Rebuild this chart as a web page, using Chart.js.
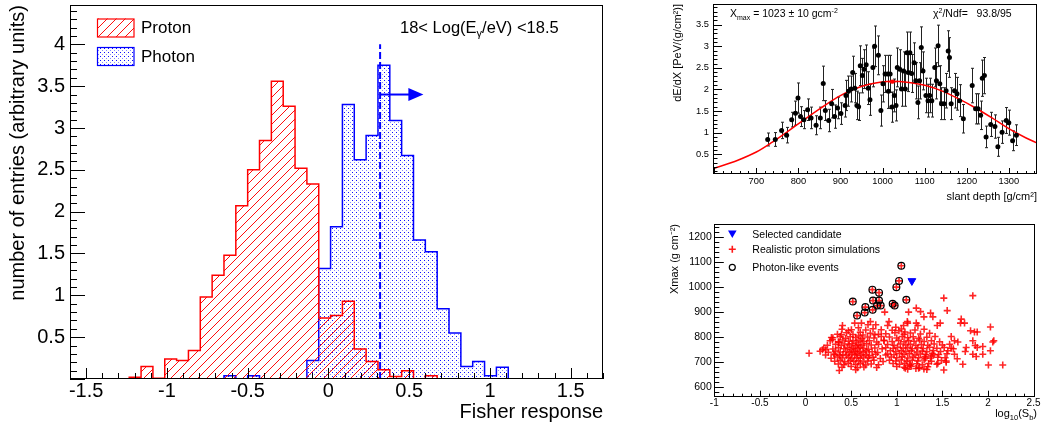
<!DOCTYPE html>
<html><head><meta charset="utf-8">
<script src="https://cdn.jsdelivr.net/npm/chart.js@4.4.1/dist/chart.umd.min.js"></script>
<style>
html,body{margin:0;padding:0;background:#fff;width:1041px;height:430px;overflow:hidden}
.box{position:absolute}
canvas{display:block}
</style></head><body>
<div class="box" style="left:0;top:0"><canvas id="c1" width="620" height="430"></canvas></div>
<div class="box" style="left:620px;top:0"><canvas id="c2" width="421" height="215"></canvas></div>
<div class="box" style="left:620px;top:215px"><canvas id="c3" width="421" height="215"></canvas></div>
<script>
// ---------------- DATA ----------------
// Left: Fisher response histograms (45 bins from -1.6 to 1.7)
const histLo = -1.6, histHi = 1.7, nBins = 45;
const protonCounts = [0,0,0,0,0,0.02,0.15,0.01,0.24,0.22, 0.34,0.98,1.24,1.48,2.07,2.50,2.85,3.56,3.26,2.52, 2.33,0.73,0.76,0.93,0.36,0.21,0.11,0.03,0.10,0, 0.04,0,0,0,0,0,0,0,0,0, 0,0,0,0,0];
const photonCounts = [0,0,0,0,0,0,0,0,0,0, 0,0,0,0.04,0,0.04,0,0,0,0, 0.22,1.32,1.82,3.28,2.62,2.91,3.75,3.09,2.67,1.66, 1.52,0.84,0.55,0.15,0.21,0.04,0.14,0,0,0, 0,0,0,0,0];
const cutValue = 0.32, cutTop = 4.0, arrowY = 3.4, arrowBase = 0.495, arrowTip = 0.588;
const histXTicks = [-1.5,-1,-0.5,0,0.5,1,1.5];
const histYTicks = [0.5,1,1.5,2,2.5,3,3.5,4];

// Top right: longitudinal profile
const profX = [727,745,760,772,784,793,799,805,813,822,830,842,852,859,864,872,879,886,893,901,911,913,919,925,929,934,939,943,947,952,956,961,966,970,977,
  981,990,996,1001,1006,1012,1014,1018,1022,1028,1032,1035,1041,1045,1050,1054,1058,1061,1065,1069,1075,1079,1084,1088,1092,1096,1103,1108,1112,1117,1124,1128,1132,1136,1140,1146,1151,1156,1159,1163,1171,1177,1183,1192,1213,1221,1227,1233,1237,1242,1246,1257,1267,1274,1284,1294,1300,1309,1318];
const profY = [0.84,0.84,1.05,0.94,1.30,1.45,1.80,1.37,1.30,1.53,1.34,1.17,1.34,2.14,1.51,1.28,1.67,1.37,1.57,1.44,1.63,1.86,1.96,2.01,2.39,2.03,1.63,1.60,2.55,2.32,2.47,2.57,2.03,1.76,2.51,
  3.00,2.79,1.51,2.13,2.36,2.36,1.96,2.36,1.59,1.86,1.63,2.51,2.47,2.01,2.43,2.01,2.85,2.39,2.85,2.37,2.62,2.20,1.70,2.20,2.97,2.43,1.86,1.74,1.86,1.74,2.51,2.20,3.01,2.13,1.67,1.67,1.97,2.89,2.74,1.67,1.97,1.90,1.74,1.32,2.09,1.55,1.55,1.40,2.26,2.32,0.90,1.19,1.14,0.67,1.01,1.28,1.23,0.81,0.94];
const profErr = [0.15,0.16,0.19,0.18,0.17,0.28,0.35,0.23,0.21,0.25,0.25,0.22,0.25,0.40,0.23,0.26,0.33,0.27,0.25,0.25,0.27,0.35,0.35,0.30,0.38,0.34,0.33,0.32,0.46,0.40,0.45,0.46,0.38,0.36,0.45,
  0.47,0.45,0.36,0.42,0.43,0.43,0.40,0.43,0.35,0.38,0.36,0.45,0.45,0.40,0.44,0.40,0.48,0.44,0.48,0.44,0.46,0.42,0.38,0.42,0.48,0.44,0.40,0.38,0.40,0.38,0.45,0.42,0.48,0.42,0.37,0.37,0.40,0.47,0.46,0.37,0.40,0.38,0.37,0.33,0.40,0.35,0.35,0.33,0.42,0.42,0.25,0.28,0.27,0.22,0.26,0.30,0.29,0.23,0.24];
const fitX = [597,656,700,735,775,814,854,893,933,968,1023,1063,1103,1142,1181,1221,1260,1300,1340,1367];
const fitY = [0.16,0.36,0.55,0.76,1.03,1.30,1.57,1.82,2.01,2.12,2.19,2.16,2.09,1.96,1.78,1.57,1.34,1.09,0.88,0.76];
const xmaxFit = 1023, xmaxErr = 10, xmaxPeak = 2.18;
const profXTicks = [700,800,900,1000,1100,1200,1300];
const profYTicks = [0.5,1,1.5,2,2.5,3,3.5];

// Bottom right: Xmax vs log10(Sb)
const candidate = [[1.166,1026]];
const photonLike = [[1.05,1087],[1.025,1026],[0.996,1001],[0.733,991],[0.806,979],[0.518,943],[0.740,947],[0.806,947],[0.824,927],[0.784,927],[0.656,921],[0.736,910],[0.955,934],[0.977,927],[1.105,950],[0.565,887],[0.649,899]];
const protonSparse = [[0.039,736],[0.186,750],[0.222,750],[0.284,799],[0.295,790],[0.321,730],[0.368,780],[0.405,847],[0.394,810],[0.503,830],[0.539,857],[0.613,857],[0.685,850],[0.711,863],[0.77,850],[0.868,901],[0.915,863],[0.90,847],[1.075,847],[1.12,857],[1.024,826],[1.09,821],[0.99,840],[0.83,830],[0.76,810],
  [1.516,957],[1.834,967],[1.553,907],[1.214,917],[1.261,903],[1.130,901],[1.298,882],[1.371,897],[1.396,882],[1.116,863],[1.214,857],[1.232,847],[1.444,847],[1.477,857],[1.707,873],[1.699,857],[1.743,857],[1.809,826],[1.852,821],[1.882,821],[2.027,841],[1.597,803],[1.633,786],[1.670,781],[1.761,759],[1.834,786],[1.860,767],[1.882,759],[1.943,763],[2.053,781],[2.064,786],[2.027,746],[1.943,732],[1.834,732],[1.871,723],[1.751,743],[1.663,714],[1.633,732],[1.724,692],[2.005,689],[2.162,689],[1.516,669],[1.542,705],[1.542,700],[1.451,696],[1.407,730],[1.597,756],[1.38,725],[1.313,716],[1.240,676],[1.141,687],[1.298,673],[1.094,676]];
const protonCluster1 = [[0.40,832],[0.47,826],[0.58,838],[0.66,829],[0.74,834],
  [0.35,812],[0.45,818],[0.52,811],[0.60,820],[0.63,809],[0.71,816],[0.80,812],
  [0.30,798],[0.38,803],[0.44,796],[0.49,802],[0.55,799],[0.58,805],[0.62,795],[0.68,801],[0.75,797],[0.83,803],
  [0.27,786],[0.36,782],[0.41,789],[0.47,784],[0.52,787],[0.56,781],[0.60,788],[0.64,783],[0.70,786],[0.78,781],[0.86,788],
  [0.24,768],[0.33,772],[0.39,767],[0.43,773],[0.48,769],[0.51,774],[0.55,766],[0.58,771],[0.62,768],[0.67,774],[0.72,769],[0.80,772],
  [0.20,757],[0.30,753],[0.36,758],[0.42,754],[0.46,759],[0.50,752],[0.53,757],[0.57,754],[0.60,760],[0.64,755],[0.69,752],[0.76,757],[0.84,754],
  [0.16,744],[0.25,740],[0.33,745],[0.38,741],[0.44,743],[0.48,739],[0.52,745],[0.55,741],[0.59,744],[0.63,740],[0.67,746],[0.73,742],[0.79,739],
  [0.22,729],[0.31,733],[0.37,728],[0.41,731],[0.45,727],[0.50,732],[0.54,729],[0.57,734],[0.61,728],[0.66,731],[0.70,727],[0.77,732],[0.88,729],
  [0.28,716],[0.35,721],[0.40,717],[0.47,720],[0.51,715],[0.56,719],[0.60,716],[0.64,721],[0.69,717],[0.74,720],[0.82,715],
  [0.32,704],[0.38,708],[0.43,702],[0.49,707],[0.53,703],[0.58,706],[0.63,701],[0.68,705],[0.75,708],[0.85,703],
  [0.36,693],[0.42,690],[0.47,695],[0.55,691],[0.60,694],[0.66,689],[0.72,693],[0.80,690],
  [0.40,680],[0.50,683],[0.57,678],[0.64,681],[0.78,679],[0.37,667],[0.55,670]];
const protonCluster2 = [[0.95,828],[1.05,833],[1.20,829],[1.30,832],
  [0.88,814],[0.98,818],[1.08,812],[1.15,817],[1.26,813],[1.36,816],
  [0.92,801],[1.00,797],[1.06,803],[1.12,798],[1.18,802],[1.24,796],[1.33,800],[1.42,803],
  [0.86,786],[0.95,783],[1.02,788],[1.08,782],[1.13,787],[1.19,784],[1.25,789],[1.30,783],[1.38,786],[1.47,782],
  [0.90,771],[0.97,768],[1.04,773],[1.10,769],[1.15,772],[1.21,767],[1.27,771],[1.34,768],[1.41,773],[1.50,769],[1.58,772],
  [0.88,758],[0.96,755],[1.01,760],[1.07,756],[1.12,759],[1.17,754],[1.23,758],[1.29,755],[1.36,760],[1.44,756],[1.52,759],[1.62,754],
  [0.93,746],[0.99,743],[1.05,747],[1.10,742],[1.16,746],[1.22,741],[1.28,745],[1.33,742],[1.40,747],[1.48,743],[1.56,746],
  [0.90,733],[0.97,730],[1.03,735],[1.08,731],[1.14,734],[1.20,729],[1.26,733],[1.32,730],[1.39,735],[1.46,731],[1.55,734],
  [0.94,721],[1.00,718],[1.06,722],[1.12,717],[1.18,721],[1.24,718],[1.31,722],[1.37,717],[1.45,720],[1.53,718],
  [0.92,708],[0.99,705],[1.05,709],[1.11,704],[1.17,708],[1.23,705],[1.30,709],[1.38,704],[1.49,707],
  [0.96,695],[1.03,692],[1.09,696],[1.15,691],[1.22,694],[1.28,690],[1.35,695],[1.44,692],
  [1.00,683],[1.08,680],[1.16,684],[1.25,679],[1.34,682],[1.12,672],[1.21,675],[1.33,671]];
const scatXTicks = [-1,-0.5,0,0.5,1,1.5,2,2.5];
const scatYTicks = [600,700,800,900,1000,1100,1200];

// ---------------- HELPERS ----------------
const FONT = '"Liberation Sans", Arial, Helvetica, sans-serif';
Chart.defaults.font.family = FONT;
Chart.defaults.color = '#000';
const fmt = v => String(Math.round(v * 100) / 100);
const pts = arr => arr.map(p => ({x: p[0], y: p[1]}));
const zip = (xs, ys) => xs.map((x, i) => ({x, y: ys[i]}));
const fixTicks = list => (s => { s.ticks = list.map(v => ({value: v})); });

function stepData(counts) {
  const w = (histHi - histLo) / nBins;
  const d = counts.map((v, k) => ({x: histLo + k * w, y: v}));
  d.push({x: histHi, y: counts[counts.length - 1]});
  return d;
}

function makeHatch() {
  const c = document.createElement('canvas'); c.width = 9; c.height = 9;
  const g = c.getContext('2d');
  g.strokeStyle = 'rgba(255,0,0,0.95)'; g.lineWidth = 1;
  g.beginPath();
  g.moveTo(-2, 11); g.lineTo(11, -2);
  g.moveTo(-2, 2); g.lineTo(2, -2);
  g.moveTo(7, 11); g.lineTo(11, 7);
  g.stroke();
  return g.createPattern(c, 'repeat');
}
function makeDots() {
  const c = document.createElement('canvas'); c.width = 4; c.height = 4;
  const g = c.getContext('2d');
  g.fillStyle = 'rgba(0,0,255,0.95)';
  g.fillRect(0, 0, 1, 1);
  g.fillStyle = 'rgba(60,60,255,0.6)';
  g.fillRect(2, 2, 1, 1);
  return g.createPattern(c, 'repeat');
}

function drawRich(ctx, parts, x, y, align) {
  ctx.textBaseline = 'alphabetic';
  let w = 0;
  parts.forEach(p => { ctx.font = p[1] + 'px ' + FONT; w += ctx.measureText(p[0]).width; });
  let cx = align === 'right' ? x - w : x;
  ctx.textAlign = 'left';
  parts.forEach(p => {
    ctx.font = p[1] + 'px ' + FONT;
    ctx.fillText(p[0], cx, y + (p[2] || 0));
    cx += ctx.measureText(p[0]).width;
  });
}

const rootAxes = {
  id: 'rootAxes',
  afterDatasetsDraw(chart, args, o) {
    const {ctx, chartArea: a, scales: {x, y}} = chart;
    ctx.save();
    ctx.strokeStyle = '#000'; ctx.lineWidth = 1;
    ctx.beginPath();
    const marks = (sc, step, len, horiz) => {
      const i0 = Math.ceil(sc.min / step - 1e-6), i1 = Math.floor(sc.max / step + 1e-6);
      for (let i = i0; i <= i1; i++) {
        const p = Math.round(sc.getPixelForValue(i * step)) + 0.5;
        if (horiz) { ctx.moveTo(p, a.bottom); ctx.lineTo(p, a.bottom - len); }
        else { ctx.moveTo(a.left, p); ctx.lineTo(a.left + len, p); }
      }
    };
    marks(x, o.xMin, o.xMinLen, true); marks(x, o.xMaj, o.xMajLen, true);
    marks(y, o.yMin, o.yMinLen, false); marks(y, o.yMaj, o.yMajLen, false);
    ctx.stroke();
    ctx.strokeRect(Math.round(a.left) + 0.5, Math.round(a.top) + 0.5,
      Math.round(a.right - a.left) - 1, Math.round(a.bottom - a.top) - 1);
    ctx.restore();
  }
};

function baseScale(opts) {
  return Object.assign({
    type: 'linear',
    grid: {display: false, drawTicks: false},
    border: {display: false}
  }, opts);
}

// ---------------- CHART 1 : histogram ----------------
const redHatch = makeHatch(), blueDots = makeDots();
const leftDecor = {
  id: 'leftDecor',
  afterDatasetsDraw(chart) {
    const {ctx, scales: {x, y}} = chart;
    ctx.save();
    const y0 = y.getPixelForValue(arrowY);
    const xs = x.getPixelForValue(cutValue), xb = x.getPixelForValue(arrowBase), xt = x.getPixelForValue(arrowTip);
    ctx.strokeStyle = '#0000ff'; ctx.fillStyle = '#0000ff'; ctx.lineWidth = 2;
    ctx.beginPath(); ctx.moveTo(xs, y0); ctx.lineTo(xb + 1, y0); ctx.stroke();
    ctx.beginPath(); ctx.moveTo(xb, y0 - 6.5); ctx.lineTo(xt, y0); ctx.lineTo(xb, y0 + 6.5); ctx.closePath(); ctx.fill();
    const boxes = [['Proton', redHatch, '#ff0000', 18.5], ['Photon', blueDots, '#0000ff', 47]];
    boxes.forEach(b => {
      ctx.fillStyle = b[1]; ctx.fillRect(97, b[3], 37, 18.5);
      ctx.strokeStyle = b[2]; ctx.lineWidth = 1.2; ctx.strokeRect(97.5, b[3] + 0.5, 36.5, 18);
      ctx.fillStyle = '#000'; ctx.font = '17px ' + FONT; ctx.textAlign = 'left'; ctx.textBaseline = 'middle';
      ctx.fillText(b[0], 141, b[3] + 10);
    });
    ctx.fillStyle = '#000';
    drawRich(ctx, [['18< Log(E', 16.5], ['\u03b3', 11, 4], ['/eV) <18.5', 16.5]], 400, 32.5, 'left');
    ctx.restore();
  }
};

new Chart(document.getElementById('c1'), {
  type: 'line',
  data: {datasets: [
    {label: 'Proton', data: stepData(protonCounts), stepped: 'before', borderColor: '#ff0000', borderWidth: 1.5,
      backgroundColor: redHatch, fill: 'origin', pointRadius: 0, order: 1},
    {label: 'Photon', data: stepData(photonCounts), stepped: 'before', borderColor: '#0000ff', borderWidth: 1.5,
      backgroundColor: blueDots, fill: 'origin', pointRadius: 0, order: 2},
    {label: 'cut', data: [{x: cutValue, y: 0}, {x: cutValue, y: cutTop}], borderColor: '#0000ff', borderWidth: 2,
      borderDash: [7, 3], pointRadius: 0, fill: false, order: 0}
  ]},
  options: {
    responsive: false, animation: false, events: [],
    layout: {padding: {top: 5, right: 17, left: 0, bottom: 0}},
    plugins: {legend: {display: false}, tooltip: {enabled: false},
      rootAxes: {xMaj: 0.5, xMin: 0.1, yMaj: 0.5, yMin: 0.1, xMajLen: 11, xMinLen: 6, yMajLen: 15, yMinLen: 7}},
    scales: {
      x: baseScale({min: histLo, max: histHi, afterBuildTicks: fixTicks(histXTicks),
        ticks: {autoSkip: false, maxRotation: 0, padding: 0, font: {size: 20}, color: '#000', callback: fmt},
        title: {display: true, text: 'Fisher response', align: 'end', font: {size: 20}, color: '#000', padding: {top: 0, bottom: 6}},
        afterFit(s) { s.height = 51; s.paddingLeft = 0; s.paddingRight = 0; }}),
      y: baseScale({min: 0, max: 4.47, afterBuildTicks: fixTicks(histYTicks),
        ticks: {padding: 5, font: {size: 20}, color: '#000', callback: fmt},
        title: {display: true, text: 'number of entries (arbitrary units)', align: 'end', font: {size: 20}, color: '#000', padding: {top: 6, bottom: 0}},
        afterFit(s) { s.width = 70; s.paddingTop = 0; s.paddingBottom = 0; }})
    }
  },
  plugins: [rootAxes, leftDecor]
});

// ---------------- CHART 2 : profile ----------------
const profDecor = {
  id: 'profDecor',
  beforeDatasetsDraw(chart) {
    const {ctx, scales: {x, y}} = chart;
    ctx.save();
    ctx.strokeStyle = '#222'; ctx.lineWidth = 1;
    ctx.beginPath();
    profX.forEach((xv, i) => {
      const px = Math.round(x.getPixelForValue(xv)) + 0.5;
      const t = y.getPixelForValue(profY[i] + profErr[i]), b = y.getPixelForValue(profY[i] - profErr[i]);
      ctx.moveTo(px, t); ctx.lineTo(px, b);
      ctx.moveTo(px - 1.5, t); ctx.lineTo(px + 1.5, t);
      ctx.moveTo(px - 1.5, b); ctx.lineTo(px + 1.5, b);
    });
    ctx.stroke();
    ctx.restore();
  },
  afterDatasetsDraw(chart) {
    const {ctx, scales: {x, y}} = chart;
    ctx.save();
    const py = y.getPixelForValue(xmaxPeak);
    ctx.strokeStyle = '#ff0000'; ctx.fillStyle = '#ff0000'; ctx.lineWidth = 1.5;
    ctx.beginPath(); ctx.moveTo(x.getPixelForValue(xmaxFit - xmaxErr), py); ctx.lineTo(x.getPixelForValue(xmaxFit + xmaxErr), py); ctx.stroke();
    ctx.beginPath(); ctx.arc(x.getPixelForValue(xmaxFit), py, 2.2, 0, Math.PI * 2); ctx.fill();
    ctx.fillStyle = '#000';
    drawRich(ctx, [['X', 10.5], ['max', 7, 2.5], [' = 1023 \u00b1 10 gcm', 10.5], ['-2', 7, -4]], 110, 17, 'left');
    drawRich(ctx, [['\u03c7', 10.5], ['2', 7, -4], ['/Ndf=   93.8/95', 10.5]], 313, 17, 'left');
    ctx.restore();
  }
};

new Chart(document.getElementById('c2'), {
  data: {datasets: [
    {type: 'scatter', data: zip(profX, profY), pointRadius: 2.5, pointBackgroundColor: '#000', pointBorderColor: '#000', pointBorderWidth: 0, order: 1},
    {type: 'line', data: zip(fitX, fitY), borderColor: '#ff0000', borderWidth: 1.5, pointRadius: 0, cubicInterpolationMode: 'monotone', fill: false, order: 2}
  ]},
  options: {
    responsive: false, animation: false, events: [],
    layout: {padding: {top: 3, right: 3, left: 0, bottom: 0}},
    plugins: {legend: {display: false}, tooltip: {enabled: false},
      rootAxes: {xMaj: 100, xMin: 20, yMaj: 0.5, yMin: 0.1, xMajLen: 6, xMinLen: 3, yMajLen: 9, yMinLen: 4.5}},
    scales: {
      x: baseScale({min: 597, max: 1367, afterBuildTicks: fixTicks(profXTicks),
        ticks: {autoSkip: false, maxRotation: 0, padding: 2, font: {size: 9.3}, color: '#000', callback: fmt},
        title: {display: true, text: 'slant depth [g/cm\u00b2]', align: 'end', font: {size: 11}, color: '#000', padding: {top: 0, bottom: 11.7}},
        afterFit(s) { s.height = 41; s.paddingLeft = 0; s.paddingRight = 0; }}),
      y: baseScale({min: 0.04, max: 3.98, afterBuildTicks: fixTicks(profYTicks),
        ticks: {padding: 4, font: {size: 9.3}, color: '#000', callback: fmt},
        title: {display: true, text: 'dE/dX [PeV/(g/cm\u00b2)]', align: 'end', font: {size: 11}, color: '#000', padding: {top: 51.7, bottom: 0}},
        afterFit(s) { s.width = 93; s.paddingTop = 0; s.paddingBottom = 0; }})
    }
  },
  plugins: [rootAxes, profDecor]
});

// ---------------- CHART 3 : scatter ----------------
const scatDecor = {
  id: 'scatDecor',
  afterDatasetsDraw(chart) {
    const {ctx} = chart;
    ctx.save();
    ctx.fillStyle = '#0000ff';
    ctx.beginPath(); ctx.moveTo(108, 15.5); ctx.lineTo(116.6, 15.5); ctx.lineTo(112.3, 23); ctx.closePath(); ctx.fill();
    ctx.strokeStyle = 'rgba(255,0,0,0.9)'; ctx.lineWidth = 1.6;
    ctx.beginPath(); ctx.moveTo(108.8, 34.3); ctx.lineTo(115.8, 34.3); ctx.moveTo(112.3, 30.8); ctx.lineTo(112.3, 37.8); ctx.stroke();
    ctx.strokeStyle = '#000'; ctx.lineWidth = 1.2;
    ctx.beginPath(); ctx.arc(112.3, 52.3, 3, 0, Math.PI * 2); ctx.stroke();
    ctx.fillStyle = '#000'; ctx.font = '10.5px ' + FONT; ctx.textAlign = 'left'; ctx.textBaseline = 'middle';
    ctx.fillText('Selected candidate', 132.3, 19.8);
    ctx.fillText('Realistic proton simulations', 132.3, 34.8);
    ctx.fillText('Photon-like events', 132.3, 52.8);
    drawRich(ctx, [['log', 11], ['10', 7.5, 3], ['(S', 11], ['b', 7.5, 3], [')', 11]], 417, 201.5, 'right');
    ctx.restore();
  }
};

new Chart(document.getElementById('c3'), {
  type: 'scatter',
  data: {datasets: [
    {label: 'Photon-like events', data: pts(photonLike), pointStyle: 'circle', pointRadius: 3.4, pointBorderColor: '#000', pointBorderWidth: 1.2, pointBackgroundColor: 'rgba(0,0,0,0)', order: 1},
    {label: 'Realistic proton simulations', data: pts(protonCluster1.concat(protonCluster2, protonSparse, photonLike)), pointStyle: 'cross', pointRadius: 3.5, pointBorderColor: 'rgba(255,0,0,0.85)', pointBorderWidth: 1.6, order: 2},
    {label: 'Selected candidate', data: pts(candidate), pointStyle: 'triangle', rotation: 180, pointRadius: 4.5, pointBackgroundColor: '#0000ff', pointBorderColor: '#0000ff', order: 0}
  ]},
  options: {
    responsive: false, animation: false, events: [],
    layout: {padding: {top: 9, right: 5, left: 0, bottom: 0}},
    plugins: {legend: {display: false}, tooltip: {enabled: false},
      rootAxes: {xMaj: 0.5, xMin: 0.1, yMaj: 100, yMin: 20, xMajLen: 6, xMinLen: 3, yMajLen: 9.5, yMinLen: 5}},
    scales: {
      x: baseScale({min: -1, max: 2.52, afterBuildTicks: fixTicks(scatXTicks),
        ticks: {autoSkip: false, maxRotation: 0, padding: 1, font: {size: 10}, color: '#000', callback: fmt},
        afterFit(s) { s.height = 33.3; s.paddingLeft = 0; s.paddingRight = 0; }}),
      y: baseScale({min: 562, max: 1254, afterBuildTicks: fixTicks(scatYTicks),
        ticks: {padding: 2.5, font: {size: 10.5}, color: '#000', callback: fmt},
        title: {display: true, text: 'Xmax (g cm\u207b\u00b2)', align: 'end', font: {size: 11}, color: '#000', padding: {top: 48.4, bottom: 0}},
        afterFit(s) { s.width = 94.3; s.paddingTop = 0; s.paddingBottom = 0; }})
    }
  },
  plugins: [rootAxes, scatDecor]
});
</script>
</body></html>
